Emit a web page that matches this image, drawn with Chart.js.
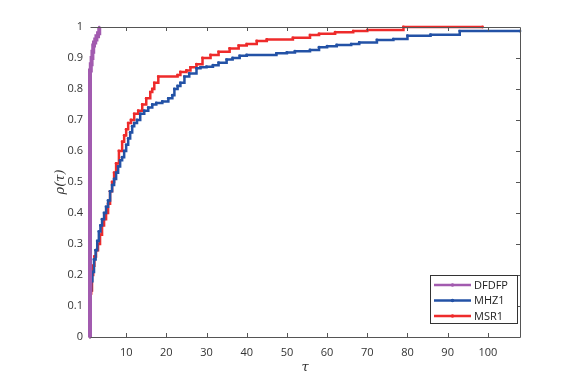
<!DOCTYPE html>
<html><head><meta charset="utf-8">
<script src="https://cdn.jsdelivr.net/npm/chart.js@4/dist/chart.umd.min.js"></script>
<style>html,body{margin:0;padding:0;background:#fff}canvas{display:block}</style>
</head><body>
<canvas id="c" width="586" height="388"></canvas>
<script>
const seriesNames = ["DFDFP", "MHZ1", "MSR1"];
const dfdfpTau = [1, 1, 1.2, 1.4, 1.6, 1.8, 2, 2.3, 2.6, 3, 3.3];
const dfdfpRho = [0, 0.86, 0.88, 0.9, 0.92, 0.94, 0.95, 0.96, 0.97, 0.98, 1.0];
const mhz1Tau = [1, 1, 1.3, 1.6, 2, 2.4, 2.8, 3.2, 3.6, 4, 4.5, 5, 5.5, 6, 6.5, 7, 7.5, 8, 8.5, 9, 9.5, 10, 10.5, 11, 11.5, 12, 12.7, 13.5, 14.5, 15.5, 16.5, 17.5, 19, 20.5, 21.5, 22, 22.8, 23.5, 24.5, 25.7, 27.5, 28.5, 30, 31.6, 33, 35, 36.5, 38.25, 40, 47.4, 50, 52, 55.75, 58, 60, 62.4, 66, 68, 72.4, 76.5, 80, 85.75, 93, 108];
const mhz1Rho = [0, 0.15, 0.18, 0.21, 0.25, 0.28, 0.31, 0.34, 0.36, 0.38, 0.4, 0.42, 0.44, 0.47, 0.49, 0.51, 0.53, 0.55, 0.57, 0.58, 0.6, 0.62, 0.64, 0.66, 0.68, 0.69, 0.7, 0.72, 0.73, 0.74, 0.75, 0.755, 0.76, 0.77, 0.78, 0.8, 0.81, 0.82, 0.84, 0.85, 0.867, 0.87, 0.872, 0.877, 0.885, 0.895, 0.9, 0.907, 0.91, 0.915, 0.918, 0.922, 0.926, 0.935, 0.938, 0.942, 0.945, 0.95, 0.958, 0.961, 0.972, 0.975, 0.987, 0.987];
const msr1Tau = [1, 1, 1.3, 1.5, 1.8, 2.1, 2.5, 3, 3.5, 4, 4.5, 5, 5.5, 6, 6.5, 7, 7.5, 8.2, 9, 9.5, 10, 10.5, 11.2, 12, 13, 14, 15, 16, 16.5, 17, 18, 22.8, 23.5, 25, 26, 27.5, 29, 31, 33, 35.75, 38, 40, 42.5, 45, 51.5, 55.75, 58, 62, 66.5, 70, 79, 98.7];
const msr1Rho = [0, 0.14, 0.15, 0.2, 0.23, 0.26, 0.28, 0.3, 0.33, 0.36, 0.38, 0.4, 0.43, 0.47, 0.5, 0.53, 0.56, 0.6, 0.63, 0.65, 0.67, 0.69, 0.7, 0.72, 0.73, 0.75, 0.77, 0.79, 0.8, 0.82, 0.84, 0.845, 0.855, 0.86, 0.87, 0.88, 0.9, 0.91, 0.92, 0.931, 0.94, 0.945, 0.955, 0.96, 0.965, 0.974, 0.978, 0.983, 0.987, 0.99, 1.0, 1.0];
const xTicks = [10, 20, 30, 40, 50, 60, 70, 80, 90, 100];
const yTicks = [0, 0.1, 0.2, 0.3, 0.4, 0.5, 0.6, 0.7, 0.8, 0.9, 1];

const colors = ["#A25BAF", "#2352A6", "#EE2B2B"];
const zip = (a, b) => a.map((x, i) => ({x: x, y: b[i]}));
const FONT = "'Open Sans', 'DejaVu Sans', sans-serif";

const boxPlugin = {
  id: 'box',
  afterDraw(chart) {
    const ctx = chart.ctx, a = chart.chartArea, xs = chart.scales.x, ys = chart.scales.y;
    ctx.save();
    ctx.strokeStyle = '#555'; ctx.lineWidth = 1;
    ctx.beginPath();
    ctx.moveTo(Math.round(a.left) + 0.5, Math.round(a.bottom) + 0.5);
    ctx.lineTo(Math.round(a.right) + 0.5, Math.round(a.bottom) + 0.5);
    ctx.lineTo(Math.round(a.right) + 0.5, Math.round(a.top) + 0.5);
    ctx.lineTo(Math.round(a.left) + 0.5, Math.round(a.top) + 0.5);
    ctx.stroke();
    ctx.beginPath();
    xTicks.forEach(v => {
      const p = Math.round(xs.getPixelForValue(v)) + 0.5;
      ctx.moveTo(p, a.bottom); ctx.lineTo(p, a.bottom - 4);
      ctx.moveTo(p, a.top); ctx.lineTo(p, a.top + 4);
    });
    yTicks.forEach(v => {
      const p = Math.round(ys.getPixelForValue(v)) + 0.5;
      ctx.moveTo(a.right, p); ctx.lineTo(a.right - 4, p);
    });
    ctx.stroke();
    // axis titles
    ctx.fillStyle = '#333';
    ctx.font = "italic 13px 'DejaVu Serif', serif";
    ctx.textAlign = 'center'; ctx.textBaseline = 'middle';
    ctx.fillText('τ', (a.left + a.right) / 2, 368);
    ctx.translate(61, (a.top + a.bottom) / 2);
    ctx.rotate(-Math.PI / 2);
    ctx.fillText('ρ(τ)', 0, 0);
    ctx.restore();
    // legend
    ctx.save();
    const lx = 430, ly = 275, lw = 87, lh = 48;
    ctx.fillStyle = '#fff';
    ctx.fillRect(lx, ly, lw, lh);
    ctx.strokeStyle = '#333'; ctx.lineWidth = 1;
    ctx.strokeRect(lx + 0.5, ly + 0.5, lw, lh);
    ctx.font = "11px " + FONT; ctx.textAlign = 'left'; ctx.textBaseline = 'middle';
    chart.data.datasets.forEach((ds, i) => {
      const y = ly + 10 + i * 15.5;
      ctx.strokeStyle = ds.borderColor; ctx.lineWidth = 2.5;
      ctx.beginPath(); ctx.moveTo(434, y); ctx.lineTo(471, y); ctx.stroke();
      ctx.fillStyle = ds.borderColor;
      ctx.beginPath(); ctx.arc(452.5, y, 1.8, 0, Math.PI * 2); ctx.fill();
      ctx.fillStyle = '#222';
      ctx.fillText(ds.label, 474, y + 0.5);
    });
    ctx.restore();
  }
};

new Chart(document.getElementById('c'), {
  type: 'line',
  data: {
    datasets: [
      {label: seriesNames[0], data: zip(dfdfpTau, dfdfpRho), borderColor: colors[0], backgroundColor: colors[0], borderWidth: 4, pointRadius: 1.3, pointBorderWidth: 0, stepped: true, clip: 4},
      {label: seriesNames[1], data: zip(mhz1Tau, mhz1Rho), borderColor: colors[1], backgroundColor: colors[1], borderWidth: 2.5, pointRadius: 1.4, pointBorderWidth: 0, stepped: true, clip: 4},
      {label: seriesNames[2], data: zip(msr1Tau, msr1Rho), borderColor: colors[2], backgroundColor: colors[2], borderWidth: 2.5, pointRadius: 1.4, pointBorderWidth: 0, stepped: true, clip: 4}
    ]
  },
  options: {
    responsive: false,
    animation: false,
    events: [],
    layout: {padding: {left: 0, right: 66, top: 27, bottom: 0}},
    plugins: {legend: {display: false}, tooltip: {enabled: false}},
    scales: {
      x: {
        type: 'linear', min: 1, max: 108,
        grid: {display: false, drawTicks: false},
        border: {display: false},
        afterBuildTicks: s => { s.ticks = xTicks.map(v => ({value: v})); },
        afterFit: s => { s.height = 51; },
        ticks: {color: '#333', font: {size: 11, family: FONT}, padding: 9, maxRotation: 0, autoSkip: false, callback: v => String(v)}
      },
      y: {
        type: 'linear', min: 0, max: 1,
        grid: {display: false, drawTicks: false},
        border: {display: false},
        afterBuildTicks: s => { s.ticks = yTicks.map(v => ({value: v})); },
        afterFit: s => { s.width = 90; },
        ticks: {color: '#333', font: {size: 11, family: FONT}, padding: 7, autoSkip: false, callback: v => String(Math.round(v * 10) / 10)}
      }
    }
  },
  plugins: [boxPlugin]
});
</script>
</body></html>
